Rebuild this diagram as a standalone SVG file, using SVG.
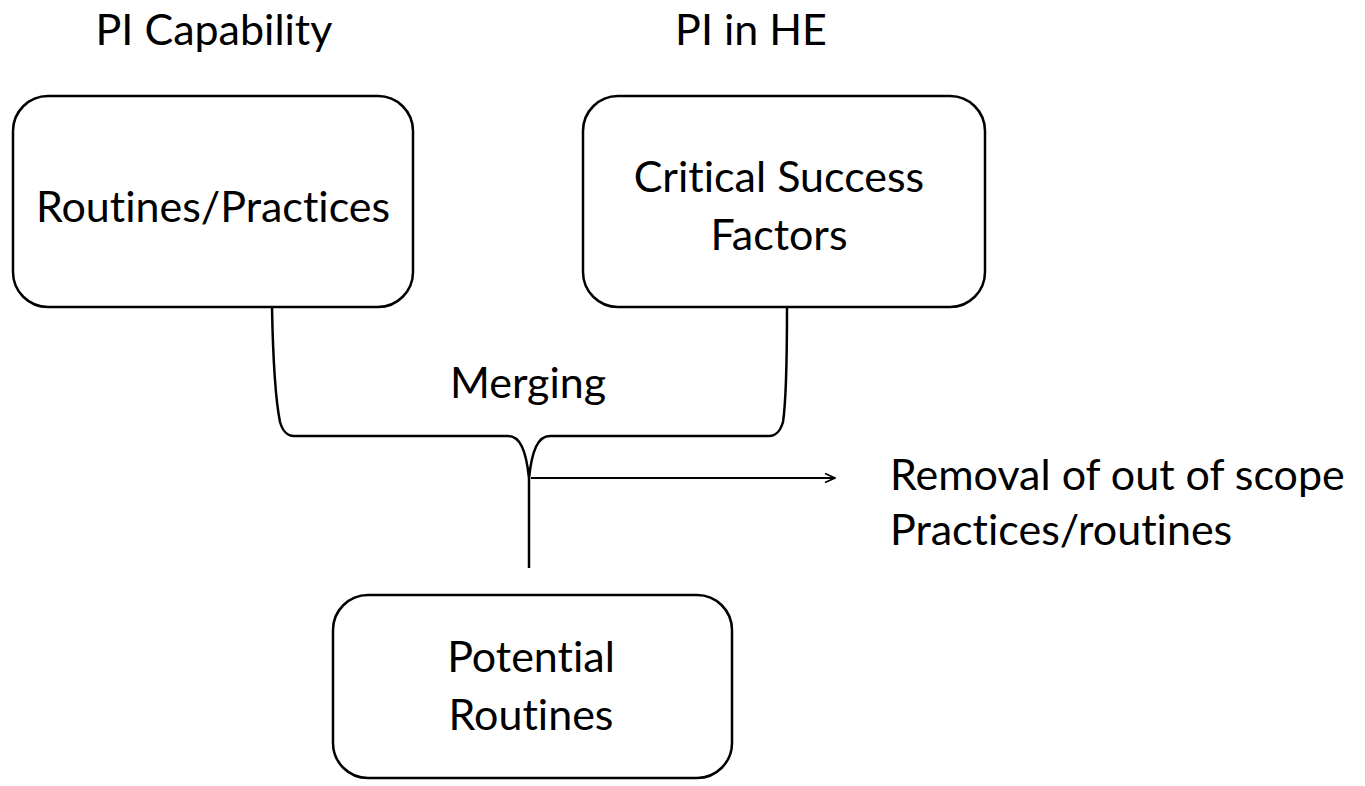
<svg xmlns="http://www.w3.org/2000/svg" width="1365" height="786" viewBox="0 0 1365 786">
<style>
.box{fill:#fff;stroke:#000;stroke-width:2.5}
.t{font-family:Lato,"Liberation Sans",sans-serif;font-size:43px;fill:#000;font-variant-ligatures:none;font-feature-settings:"liga" 0,"clig" 0}
.m{text-anchor:middle}
.ln{fill:none;stroke:#000;stroke-width:2.5}
.ar{fill:none;stroke:#000;stroke-width:1.8}
</style>
<defs>
<marker id="ah" viewBox="0 0 12 12" refX="11" refY="6" markerWidth="12" markerHeight="12" markerUnits="userSpaceOnUse" orient="auto">
<path d="M1,1.5 L11,6 L1,10.5" fill="none" stroke="#000" stroke-width="1.6"/>
</marker>
</defs>
<rect width="1365" height="786" fill="#fff"/>
<text class="t m" x="214" y="45">PI Capability</text>
<text class="t m" x="751" y="45">PI in HE</text>
<g id="connectors">
<path class="ln" d="M272,307 C273,360 276,402 280,422 C283,432 287,436 294,436 L508,436 C520,436 526,450 529,478 C532,450 538,436 550,436 L769,436 C776,436 780,432 783,422 C786,402 787,360 787,307"/>
<path class="ln" d="M529,478 L529,568"/>
<path class="ar" d="M531,478 L835,478" marker-end="url(#ah)"/>
</g>
<g id="node-routines">
<rect class="box" x="13" y="96" width="400" height="211" rx="35"/>
<text class="t m" x="213" y="222">Routines/Practices</text>
</g>
<g id="node-csf">
<rect class="box" x="583" y="96" width="402" height="211" rx="35"/>
<text class="t m" x="779" y="192">Critical Success</text>
<text class="t m" x="779" y="250">Factors</text>
</g>
<text class="t m" x="528" y="398">Merging</text>
<g id="node-potential">
<rect class="box" x="333" y="595" width="399" height="183" rx="35"/>
<text class="t m" x="531" y="672">Potential</text>
<text class="t m" x="531" y="730">Routines</text>
</g>
<g id="label-removal">
<text class="t" x="890" y="490">Removal of out of scope</text>
<text class="t" x="890" y="545">Practices/routines</text>
</g>
</svg>
